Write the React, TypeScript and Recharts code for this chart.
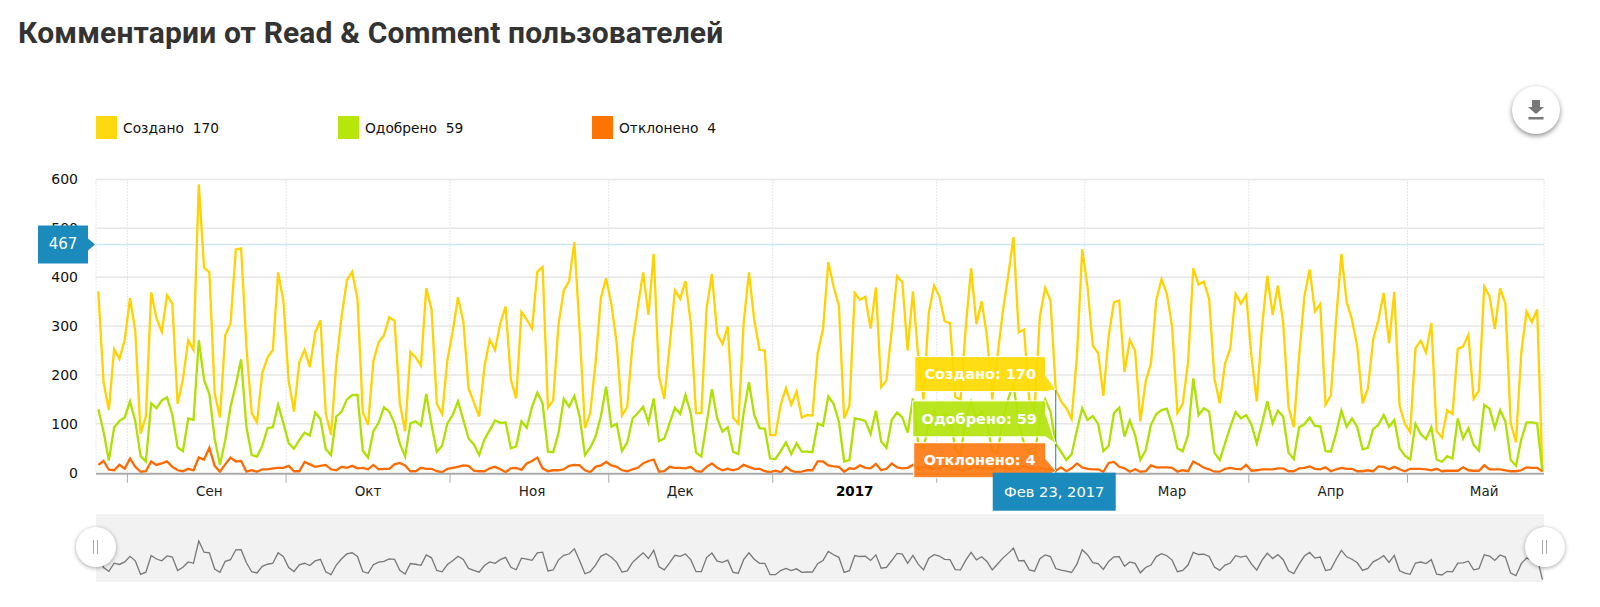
import React from 'react';
import { LineChart, Line, XAxis, YAxis, CartesianGrid, ReferenceLine, ReferenceDot } from 'recharts';

const created = [
371,185,128,253,233,272,357,289,80,115,369,316,288,363,346,141,191,271,251,590,419,410,163,113,281,305,457,459,258,122,103,204,236,251,410,351,187,125,226,251,216,287,312,122,77,224,320,394,411,355,124,98,228,267,281,318,311,142,85,247,236,219,378,334,141,120,231,289,359,310,173,144,115,217,272,251,306,
340,190,152,329,313,295,411,421,133,148,303,373,392,472,289,91,122,224,357,398,344,265,117,135,265,340,410,323,448,197,151,258,373,356,392,306,122,122,337,407,284,264,299,113,100,306,410,313,251,250,77,77,139,173,139,166,113,118,117,245,293,431,381,342,111,137,368,354,360,295,379,175,189,293,402,390,250,371,
238,150,327,383,361,310,306,155,150,299,418,304,351,279,150,240,330,402,482,287,293,150,130,320,378,353,170,
146,132,110,238,457,381,260,245,157,279,349,352,206,272,249,105,187,224,353,396,366,299,122,141,224,418,385,391,355,193,142,223,255,366,346,364,238,146,299,403,323,383,306,135,93,238,361,416,330,345,139,158,313,448,349,313,258,142,172,272,313,368,265,370,137,100,83,255,270,246,306,85,72,128,120,254,258,282,151,168,381,361,294,377,346,101,62,245,330,308,334,2];

const approved = [
130,84,25,93,106,113,146,105,34,23,142,132,148,154,118,52,44,111,108,271,190,161,70,16,66,135,180,232,94,36,33,55,91,93,139,101,60,49,67,82,76,123,110,48,36,115,125,150,159,159,45,31,85,102,134,125,101,60,33,101,105,96,161,98,43,55,101,118,146,108,70,58,36,68,87,107,102,
103,50,54,105,92,135,164,142,43,42,81,151,135,157,115,36,51,74,115,176,94,100,44,62,111,122,135,103,152,65,70,101,133,120,159,122,41,33,101,171,111,84,93,43,38,122,185,118,91,90,29,28,44,62,38,60,43,43,42,101,96,156,141,105,23,26,111,109,106,79,127,64,51,108,123,113,82,152,
60,50,100,125,110,120,115,50,35,110,145,110,125,100,45,40,110,150,183,100,60,40,35,110,150,125,59,
43,26,38,87,132,108,116,100,44,55,122,133,74,107,77,26,46,98,120,128,131,98,50,44,77,193,118,132,125,41,26,60,94,124,111,118,98,60,101,146,101,127,115,41,28,93,99,113,96,95,44,43,81,127,94,111,93,48,51,89,98,118,94,108,50,35,27,100,79,69,93,27,22,34,29,111,70,91,57,45,139,131,92,128,105,26,14,68,103,103,101,2];

const rejected = [
16,24,6,5,16,8,29,12,2,3,23,16,19,23,12,5,3,8,5,31,27,51,14,2,17,31,23,24,2,5,2,7,7,9,10,10,14,3,3,22,17,12,14,16,7,5,12,10,14,9,10,7,16,7,8,8,17,20,15,3,3,10,8,8,3,1,8,10,12,15,14,4,3,3,9,12,7,
1,9,10,6,19,24,31,9,3,5,5,7,14,16,15,5,1,12,15,22,15,12,5,3,7,10,19,24,27,2,3,12,10,10,9,12,3,2,12,19,10,5,8,5,8,16,12,8,8,3,1,4,1,12,4,1,2,5,5,23,23,15,13,12,2,9,8,15,10,9,18,5,8,19,11,9,10,16,
8,12,10,9,10,14,8,10,6,8,10,12,9,10,7,14,10,8,9,9,12,10,8,10,8,6,4,
11,3,9,19,11,8,7,7,2,20,22,12,9,2,7,2,3,15,11,11,11,10,2,5,3,23,17,10,7,2,2,8,10,8,7,16,4,5,7,7,7,9,9,3,3,9,10,13,8,7,11,3,7,10,8,8,3,3,5,3,13,12,7,12,7,3,8,8,8,7,5,8,3,4,4,4,11,5,4,4,15,7,7,7,5,3,3,5,11,10,10,3];

const rows = created.map((c, i) => ({ i, created: c, approved: approved[i], rejected: rejected[i] }));

const monthTicks = [5.5, 35.5, 66.5, 96.5, 127.5, 158.5, 186.5, 217.5, 247.5];
const monthLabelAt = [21, 51, 82, 110, 143, 203, 233, 262];
const monthLabels = ['Сен', 'Окт', 'Ноя', 'Дек', '2017', 'Мар', 'Апр', 'Май'];
const yTicks = [0, 100, 200, 300, 400, 500, 600];
const legendItems = [
  { name: 'Создано', value: 170, color: '#FFD90F', x: 96 },
  { name: 'Одобрено', value: 59, color: '#B6E60A', x: 338 },
  { name: 'Отклонено', value: 4, color: '#FF7300', x: 592 },
];
const hoverIndex = 181;
const hoverY = 467;

const FONT = '"DejaVu Sans", sans-serif';
const X_DOMAIN: [number, number] = [-0.43, 273.3];

function Flag(props: any) {
  const { cx, cy, top, bottom, tipTop, left, fill, text } = props;
  const l = cx - left, r = cx - 10;
  const pts = `${l},${cy + top} ${r},${cy + top} ${r},${cy + tipTop} ${cx},${cy} ${r},${cy + bottom} ${l},${cy + bottom}`;
  return (
    <g>
      <polygon points={pts} fill={fill} fillOpacity={0.92} stroke="#fff" strokeWidth={1} />
      <text x={(l + r) / 2} y={cy + (top + bottom) / 2 + 5} textAnchor="middle" fill="#fff" fontFamily={FONT} fontWeight={700} fontSize={14.5}>{text}</text>
    </g>
  );
}

function DateBox(props: any) {
  const { cx, cy } = props;
  return (
    <g>
      <rect x={cx - 63} y={cy} width={123} height={38} fill="#1B8ABC" />
      <text x={cx - 1.5} y={cy + 24} textAnchor="middle" fill="#fff" fontFamily={FONT} fontSize={14.7}>Фев 23, 2017</text>
    </g>
  );
}

function ValueBox(props: any) {
  const { cx, cy } = props;
  const left = cx - 58, right = cx - 8;
  return (
    <g>
      <polygon points={`${left},${cy - 19} ${right},${cy - 19} ${right},${cy - 6} ${right + 7},${cy} ${right},${cy + 6} ${right},${cy + 19} ${left},${cy + 19}`} fill="#1B8ABC" />
      <text x={(left + right) / 2} y={cy + 5} textAnchor="middle" fill="#fff" fontFamily={FONT} fontSize={15}>{hoverY}</text>
    </g>
  );
}

function MonthTick(props: any) {
  const { x, index } = props;
  const label = monthLabels[index];
  return (
    <text x={x} y={496} textAnchor="middle" fill={label === '2017' ? '#000' : '#222'} fontFamily={FONT} fontSize={13.5} fontWeight={label === '2017' ? 700 : 400}>{label}</text>
  );
}

function LegendRow() {
  return (
    <div style={{ position: 'absolute', left: 0, top: 116, width: 1600, height: 30 }}>
      {legendItems.map((it) => (
        <div key={it.name} style={{ position: 'absolute', left: it.x, top: 0, display: 'flex', alignItems: 'center', fontFamily: FONT, fontSize: 13.8, color: '#111', whiteSpace: 'pre' }}>
          <span style={{ display: 'inline-block', width: 21, height: 23, background: it.color, marginRight: 6 }} />
          <span>{it.name}  {it.value}</span>
        </div>
      ))}
    </div>
  );
}

function Handle({ x }: { x: number }) {
  return (
    <div style={{ position: 'absolute', left: x - 20, top: 527, width: 40, height: 40, borderRadius: 20, background: '#fff', boxShadow: '0 1px 4px rgba(0,0,0,0.35)' }}>
      <div style={{ position: 'absolute', left: 17, top: 13, width: 1, height: 14, background: '#aaa' }} />
      <div style={{ position: 'absolute', left: 21, top: 13, width: 1, height: 14, background: '#aaa' }} />
    </div>
  );
}

export default function App() {
  return (
    <div style={{ position: 'absolute', left: 0, top: 0, width: 1600, height: 607, background: '#fff', overflow: 'hidden' }}>
      <div style={{ position: 'absolute', left: 18, top: 15, fontFamily: 'Roboto, sans-serif', fontWeight: 700, fontSize: 30, letterSpacing: 0.15, color: '#333', whiteSpace: 'nowrap' }}>
        Комментарии от Read &amp; Comment пользователей
      </div>

      <div style={{ position: 'absolute', left: 1512, top: 86, width: 48, height: 48, borderRadius: 24, background: '#fff', boxShadow: '0 2px 5px rgba(0,0,0,0.45)' }}>
        <svg width={48} height={48}>
          <polygon points="20,14 28,14 28,21 32,21 24,28 16,21 20,21" fill="#777" />
          <rect x={16.5} y={31} width={15} height={2.5} fill="#777" />
        </svg>
      </div>

      <LegendRow />

      <div style={{ position: 'absolute', left: 0, top: 0 }}>
        <LineChart width={1600} height={607} data={rows} margin={{ top: 179.5, left: 36, right: 56, bottom: 132.3 }}>
          <CartesianGrid horizontal={false} vertical stroke="#c4ccd2" strokeDasharray="1 2" xAxisId="months" yAxisId="val" />
          <XAxis xAxisId="months" dataKey="i" type="number" domain={X_DOMAIN} allowDataOverflow ticks={monthTicks} interval={0} height={1} tickFormatter={() => ''} tickSize={9} tickLine={{ stroke: '#aaa' }} axisLine={{ stroke: '#aaa', strokeWidth: 2 }} />
          <XAxis xAxisId="labels" dataKey="i" type="number" domain={X_DOMAIN} allowDataOverflow ticks={monthLabelAt} interval={0} height={1} axisLine={false} tickLine={false} tick={<MonthTick />} />
          <YAxis yAxisId="val" domain={[0, 600]} ticks={yTicks} interval={0} width={60} axisLine={false} tickLine={false} tickMargin={12} tick={{ fill: '#111', fontFamily: FONT, fontSize: 14 }} />
          {yTicks.slice(1).map((t) => (
            <ReferenceLine key={t} xAxisId="months" yAxisId="val" y={t} stroke="#e6e6e6" strokeWidth={1.5} />
          ))}
          <ReferenceLine xAxisId="months" yAxisId="val" y={hoverY} stroke="#cfe5f2" strokeWidth={1.5} />
          <Line xAxisId="months" yAxisId="val" dataKey="created" type="linear" stroke="#FFD200" strokeWidth={2.3} dot={false} isAnimationActive={false} />
          <Line xAxisId="months" yAxisId="val" dataKey="approved" type="linear" stroke="#AEE000" strokeWidth={2.3} dot={false} isAnimationActive={false} />
          <Line xAxisId="months" yAxisId="val" dataKey="rejected" type="linear" stroke="#FF6A00" strokeWidth={2.3} dot={false} isAnimationActive={false} />
          <ReferenceLine xAxisId="months" yAxisId="val" segment={[{ x: hoverIndex, y: created[hoverIndex] }, { x: hoverIndex, y: 0 }]} stroke="#1B7FB8" strokeWidth={1} />
        </LineChart>
      </div>

      <div style={{ position: 'absolute', left: 0, top: 0 }}>
        <LineChart width={1600} height={607} data={rows} margin={{ top: 179.5, left: 36, right: 56, bottom: 132.3 }}>
          <XAxis xAxisId="x" dataKey="i" type="number" domain={X_DOMAIN} allowDataOverflow height={2} axisLine={false} tickLine={false} ticks={monthTicks} tickFormatter={() => ''} />
          <YAxis yAxisId="y" domain={[0, 600]} width={60} axisLine={false} tickLine={false} ticks={yTicks} tickFormatter={() => ''} />
          <Line xAxisId="x" yAxisId="y" dataKey="created" stroke="none" dot={false} isAnimationActive={false} />
          <ReferenceDot xAxisId="x" yAxisId="y" x={hoverIndex} y={created[hoverIndex]} shape={(p: any) => <Flag {...p} top={-33} bottom={2} tipTop={-14} left={141} fill="#FFDA00" text="Создано: 170" />} />
          <ReferenceDot xAxisId="x" yAxisId="y" x={hoverIndex} y={approved[hoverIndex]} shape={(p: any) => <Flag {...p} top={-43} bottom={-7} tipTop={-30} left={143} fill="#B4E40C" text="Одобрено: 59" />} />
          <ReferenceDot xAxisId="x" yAxisId="y" x={hoverIndex} y={rejected[hoverIndex]} shape={(p: any) => <Flag {...p} top={-28} bottom={7} tipTop={-12} left={142} fill="#FF7A10" text="Отклонено: 4" />} />
          <ReferenceDot xAxisId="x" yAxisId="y" x={hoverIndex} y={0} shape={(p: any) => <DateBox {...p} />} />
          <ReferenceDot xAxisId="x" yAxisId="y" x={X_DOMAIN[0]} y={hoverY} shape={(p: any) => <ValueBox {...p} />} />
        </LineChart>
      </div>

      <div style={{ position: 'absolute', left: 96, top: 514, width: 1448, height: 68, background: '#f2f2f2' }} />
      <div style={{ position: 'absolute', left: 0, top: 514 }}>
        <LineChart width={1600} height={68} data={rows} margin={{ top: 0, left: 96, right: 56, bottom: 0 }}>
          <XAxis dataKey="i" type="number" domain={X_DOMAIN} allowDataOverflow hide />
          <YAxis domain={[-35, 1003]} allowDataOverflow hide width={0} />
          <Line dataKey="created" type="linear" stroke="#777" strokeWidth={1.3} dot={false} isAnimationActive={false} />
        </LineChart>
      </div>
      <Handle x={96} />
      <Handle x={1545} />
    </div>
  );
}
